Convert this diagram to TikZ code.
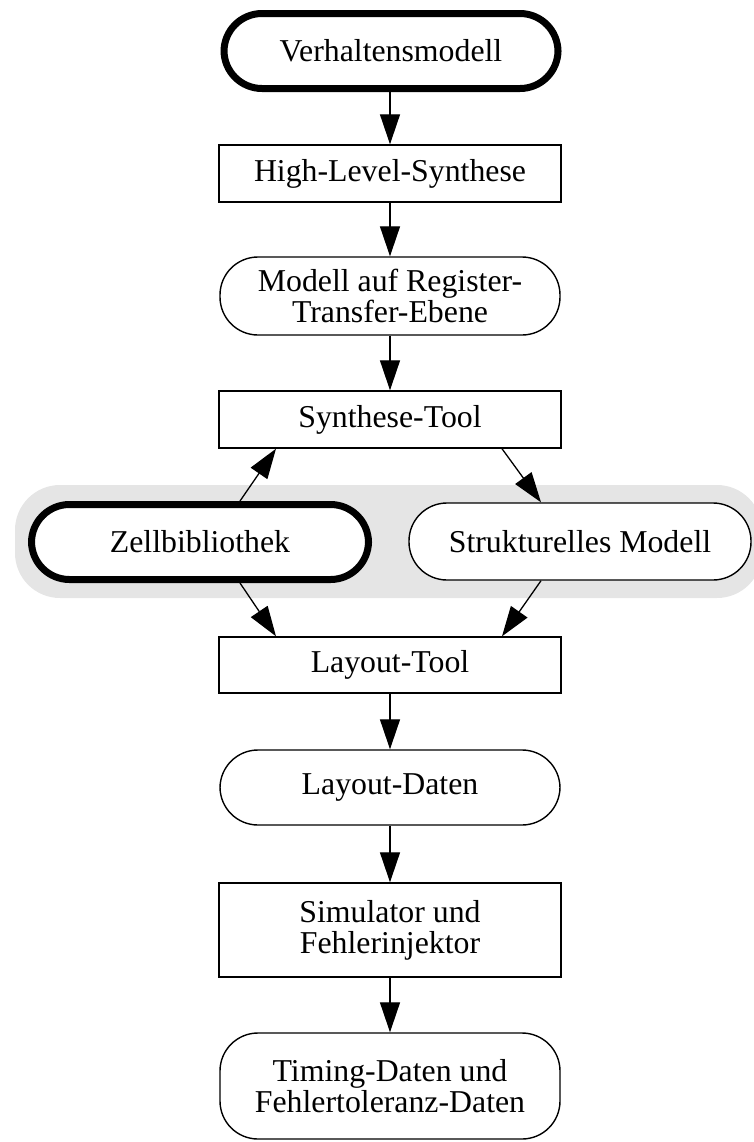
\documentclass[tikz,border=0pt]{standalone}
\usepackage{fontspec}
\setmainfont{Liberation Serif}
\usetikzlibrary{arrows.meta,calc}
\definecolor{bandgray}{RGB}{229,229,229}
\begin{document}
\begin{tikzpicture}[x=0.5pt,y=-0.5pt,
  every node/.style={font=\fontsize{15.9pt}{15.6pt}\selectfont, align=center, inner sep=0pt},
  procbox/.style={draw, fill=white, line width=0.7pt, minimum width=171pt, minimum height=28.5pt},
  databox/.style={draw, fill=white, line width=0.7pt, rounded corners=19pt, minimum width=170pt, minimum height=39pt},
  sourcebox/.style={databox, line width=3.5pt, minimum width=167pt, minimum height=37.5pt},
  flow/.style={line width=0.65pt, -{Triangle[length=15pt,width=10pt]}}
]
\clip (0,0) rectangle (754,1142);

% grey band behind the cell library and the structural model
\fill[bandgray, rounded corners=22.5pt] (15,485) rectangle (762,598);

% main column
\node[sourcebox] (verh) at (391,51) {Verhaltensmodell};
\node[procbox] (hls) at (390,173.5) {High-Level-Synthese};
\node[databox] (rtl) at (390,296) {Modell auf Register-\\Transfer-Ebene};
\node[procbox] (syn) at (390,419.5) {Synthese-Tool};
\node[sourcebox, minimum width=168.5pt] (zell) at (200,542) {Zellbibliothek};
\node[databox, minimum width=171pt, minimum height=38.5pt] (struk) at (580,541.5) {Strukturelles Modell};
\node[procbox, minimum height=28pt] (lay) at (390,665) {Layout-Tool};
\node[databox, minimum height=37.5pt] (ldat) at (390,787.5) {Layout-Daten};
\node[procbox, minimum height=47pt] (sim) at (390,930) {Simulator und\\Fehlerinjektor};
\node[databox, minimum height=53pt] (tim) at (390,1086) {Timing-Daten und\\Fehlertoleranz-Daten};

% connectors
\draw[flow] (hls.north |- verh.south) -- (hls.north);
\draw[flow] (hls) -- (rtl);
\draw[flow] (rtl) -- (syn);
\draw[flow] ([xshift=20pt]zell.north) -- ([xshift=-57pt]syn.south);
\draw[flow] ([xshift=56pt]syn.south) -- ([xshift=-19.5pt]struk.north);
\draw[flow] ([xshift=20pt]zell.south) -- ([xshift=-57pt]lay.north);
\draw[flow] ([xshift=-19.5pt]struk.south) -- ([xshift=56pt]lay.north);
\draw[flow] (lay) -- (ldat);
\draw[flow] (ldat) -- (sim);
\draw[flow] (sim) -- (tim);
\end{tikzpicture}
\end{document}
